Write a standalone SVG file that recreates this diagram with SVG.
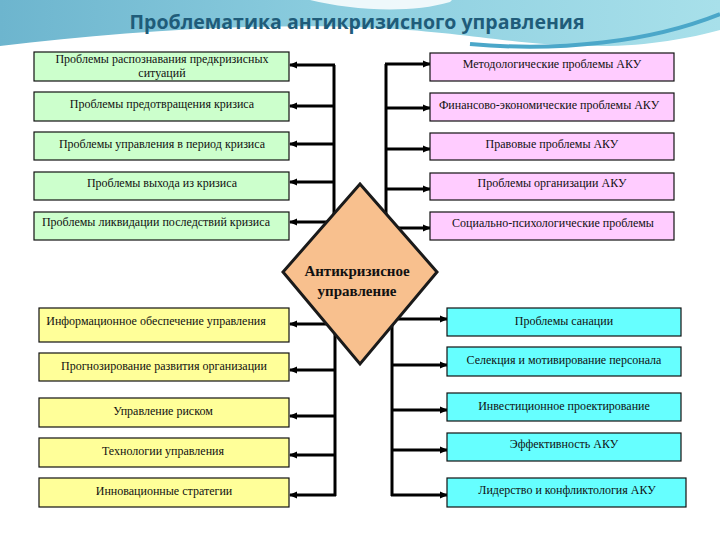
<svg xmlns="http://www.w3.org/2000/svg" width="720" height="540" viewBox="0 0 720 540">
<defs>
<linearGradient id="sky" x1="0" y1="0" x2="1" y2="0">
<stop offset="0" stop-color="#6DB5CE"/>
<stop offset="0.5" stop-color="#8ECFE0"/>
<stop offset="1" stop-color="#A8E0EA"/>
</linearGradient>
<marker id="ah" markerWidth="8" markerHeight="8" refX="7" refY="4" orient="auto" markerUnits="userSpaceOnUse">
<path d="M0,0.5 L8,4 L0,7.5 Z" fill="#000"/>
</marker>
<style>
.box{stroke:#111;stroke-width:1.2}
.g{fill:#CCFFCC}.p{fill:#FFCCFF}.y{fill:#FFFF99}.c{fill:#66FFFF}
.t{font-family:"Liberation Serif","Times New Roman",serif;font-size:12px;fill:#111;text-anchor:middle}
.ln{stroke:#000;stroke-width:3;fill:none}
.ar{stroke:#000;stroke-width:3;fill:none;marker-end:url(#ah)}
</style>
</defs>
<rect width="720" height="540" fill="#FFFFFF"/>
<g id="background">
<rect x="0" y="0" width="720" height="56" fill="url(#sky)"/>
<path d="M0,46 C120,32 260,22 380,28 C470,33 520,46 600,46 C650,46 690,38 720,30 V540 H0 Z" fill="#FFFFFF"/>
<path d="M470,44 C560,52 650,42 720,14" stroke="#4BA7C9" stroke-width="4" fill="none"/>
<path d="M310,0 C350,10 410,14 450,2 L452,0 Z" fill="#FFFFFF" opacity="0.85"/>
</g>
<text x="357" y="29" font-family="'Open Sans','Liberation Sans',sans-serif" font-weight="700" font-size="20" fill="#1F5C7A" text-anchor="middle" textLength="455" lengthAdjust="spacingAndGlyphs">Проблематика антикризисного управления</text>
<g id="connectors">
<path class="ln" d="M334,65 V250"/>
<path class="ln" d="M386,64 V250"/>
<path class="ln" d="M335,320 V496"/>
<path class="ln" d="M392,318 V496"/>
<path class="ar" d="M335,65 H290"/>
<path class="ar" d="M335,106 H290"/>
<path class="ar" d="M335,144 H290"/>
<path class="ar" d="M335,182 H290"/>
<path class="ar" d="M335,222 H290"/>
<path class="ar" d="M385,64 H430"/>
<path class="ar" d="M385,108 H430"/>
<path class="ar" d="M385,149 H430"/>
<path class="ar" d="M385,189 H430"/>
<path class="ar" d="M385,228 H430"/>
<path class="ar" d="M336,324 H290"/>
<path class="ar" d="M336,370 H290"/>
<path class="ar" d="M336,416 H290"/>
<path class="ar" d="M336,455 H290"/>
<path class="ar" d="M336,495 H290"/>
<path class="ar" d="M391,319 H447"/>
<path class="ar" d="M391,365 H447"/>
<path class="ar" d="M391,410 H447"/>
<path class="ar" d="M391,450 H447"/>
<path class="ar" d="M391,495 H447"/>
</g>
<g id="center">
<path d="M360,184 L437,272 L360,364 L283,272 Z" fill="#F8C08E" stroke="#1a1a1a" stroke-width="3" stroke-linejoin="miter"/>
<text x="357" y="276" font-family="'Liberation Serif','Times New Roman',serif" font-weight="700" font-size="15" fill="#111" text-anchor="middle">Антикризисное</text>
<text x="357" y="296" font-family="'Liberation Serif','Times New Roman',serif" font-weight="700" font-size="15" fill="#111" text-anchor="middle">управление</text>
</g>
<g id="g1"><rect class="box g" x="34" y="52" width="255" height="29"/><text class="t" x="162" y="63" font-size="11.5">Проблемы распознавания предкризисных</text><text class="t" x="162" y="77" font-size="11.5">ситуаций</text></g>
<g id="g2"><rect class="box g" x="34" y="92" width="255" height="29"/><text class="t" x="162" y="108">Проблемы предотвращения кризиса</text></g>
<g id="g3"><rect class="box g" x="34" y="132" width="255" height="28"/><text class="t" x="162" y="148">Проблемы управления в период кризиса</text></g>
<g id="g4"><rect class="box g" x="34" y="172" width="255" height="28"/><text class="t" x="162" y="187">Проблемы выхода из кризиса</text></g>
<g id="g5"><rect class="box g" x="34" y="212" width="255" height="28"/><text class="t" x="156" y="226">Проблемы ликвидации последствий кризиса</text></g>
<g id="p1"><rect class="box p" x="430" y="53" width="244" height="28"/><text class="t" x="552" y="68">Методологические проблемы АКУ</text></g>
<g id="p2"><rect class="box p" x="430" y="93" width="244" height="28"/><text class="t" x="549" y="109">Финансово-экономические проблемы АКУ</text></g>
<g id="p3"><rect class="box p" x="430" y="133" width="244" height="27"/><text class="t" x="552" y="148">Правовые проблемы АКУ</text></g>
<g id="p4"><rect class="box p" x="430" y="173" width="244" height="27"/><text class="t" x="552" y="187">Проблемы организации АКУ</text></g>
<g id="p5"><rect class="box p" x="430" y="212" width="244" height="28"/><text class="t" x="553" y="227">Социально-психологические проблемы</text></g>
<g id="y1"><rect class="box y" x="39" y="308" width="250" height="34"/><text class="t" x="156" y="325">Информационное обеспечение управления</text></g>
<g id="y2"><rect class="box y" x="39" y="353" width="250" height="28"/><text class="t" x="164" y="370">Прогнозирование развития организации</text></g>
<g id="y3"><rect class="box y" x="39" y="398" width="250" height="29"/><text class="t" x="163" y="415">Управление риском</text></g>
<g id="y4"><rect class="box y" x="39" y="438" width="250" height="29"/><text class="t" x="163" y="455">Технологии управления</text></g>
<g id="y5"><rect class="box y" x="39" y="478" width="250" height="29"/><text class="t" x="164" y="495">Инновационные стратегии</text></g>
<g id="c1"><rect class="box c" x="447" y="308" width="234" height="28"/><text class="t" x="564" y="325">Проблемы санации</text></g>
<g id="c2"><rect class="box c" x="447" y="347" width="234" height="29"/><text class="t" x="564" y="364">Селекция и мотивирование персонала</text></g>
<g id="c3"><rect class="box c" x="447" y="393" width="234" height="28"/><text class="t" x="564" y="410">Инвестиционное проектирование</text></g>
<g id="c4"><rect class="box c" x="447" y="433" width="234" height="28"/><text class="t" x="564" y="448">Эффективность АКУ</text></g>
<g id="c5"><rect class="box c" x="447" y="478" width="239" height="29"/><text class="t" x="567" y="494">Лидерство и конфликтология АКУ</text></g>
</svg>
